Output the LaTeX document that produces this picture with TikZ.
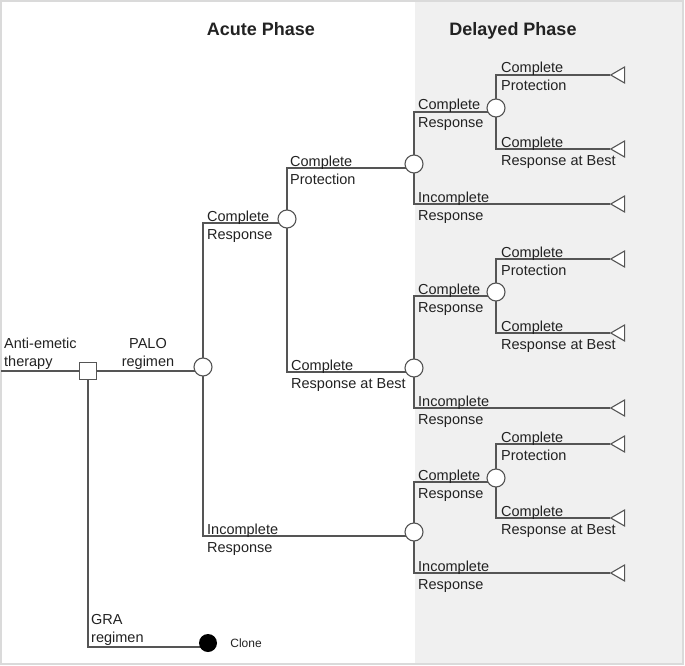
\documentclass[tikz,border=0pt]{standalone}
\usepackage{fontspec}
\setmainfont{Liberation Sans}
\usetikzlibrary{positioning}
\usetikzlibrary{shapes.geometric, backgrounds}
\definecolor{linegray}{HTML}{555555}
\definecolor{bandgray}{HTML}{F0F0F0}
\definecolor{framegray}{HTML}{DADADA}
\definecolor{textgray}{HTML}{222222}

\begin{document}
\begin{tikzpicture}[
    x=1pt, y=-1pt,% one unit per pixel, y runs down
    chance/.style = {circle, draw=linegray, fill=white, line width=1.1pt, minimum size=18pt, inner sep=0pt},% chance nodes
    decision/.style = {rectangle, draw=linegray, fill=white, line width=1.1pt, minimum size=17pt, inner sep=0pt},
    term/.style = {regular polygon, regular polygon sides=3, shape border rotate=90, draw=linegray, fill=white, line width=1.1pt, minimum size=18.5pt, inner sep=0pt},% end nodes
    lbl/.style = {align=left, anchor=base west, inner sep=0pt, text=textgray, font=\fontsize{14.5}{18}\selectfont},% branch labels, placed by 2nd line
    title/.style = {anchor=base, inner sep=0pt, text=textgray, font=\bfseries\fontsize{18}{20}\selectfont},
    branch/.style = {draw=linegray, line width=1.1pt}
    ]
    \useasboundingbox (0,0) rectangle (685,666);
    % titles
    \node (acute) [title] at (261,36) {Acute Phase};
    \node (delayed) [title] at (513,36) {Delayed Phase};
    % tree nodes
    \coordinate (start) at (1,371);
    \node (dec) [decision] at (88,371) {};
    \node (c0) [chance] at (203,367) {};
    \node (c1) [chance] at (287,219) {};
    \node (d1) [chance] at (414,164) {};
    \node (d2) [chance] at (414,368) {};
    \node (d3) [chance] at (414,532) {};
    \node (e1) [chance] at (496,108) {};
    \node (e2) [chance] at (496,292) {};
    \node (e3) [chance] at (496,478) {};
    \node (clone) [circle, fill=black, minimum size=18pt, inner sep=0pt] at (208,643) {};
    \node (t1a) [term] at (620,75) {};
    \node (t1b) [term] at (620,149) {};
    \node (t1c) [term] at (620,204) {};
    \node (t2a) [term] at (620,259) {};
    \node (t2b) [term] at (620,333) {};
    \node (t2c) [term] at (620,408) {};
    \node (t3a) [term] at (620,444) {};
    \node (t3b) [term] at (620,518) {};
    \node (t3c) [term] at (620,573) {};
    % labels
    \node (lther) [lbl, anchor=south west] at (4,370) {Anti-emetic\\therapy};
    \node (lpalo) [lbl, align=center, anchor=south] at (148,370) {PALO\\regimen};
    \node (lgra) [lbl, anchor=south west] at (91,646) {GRA\\regimen};
    \node (lclone) [right=13pt of clone, inner sep=0pt, text=textgray, font=\fontsize{12}{14}\selectfont] {Clone};
    \node (lcr) [lbl] at (207,239) {Complete\\Response};
    \node (lcp) [lbl] at (290,184) {Complete\\Protection};
    \node (lcrb) [lbl] at (291,388) {Complete\\Response at Best};
    \node (lir) [lbl] at (207,552) {Incomplete\\Response};
    \node (l1cr) [lbl] at (418,128) {Complete\\Response};
    \node (l1cp) [lbl] at (501,91) {Complete\\Protection};
    \node (l1crb) [lbl] at (501,165) {Complete\\Response at Best};
    \node (l1ir) [lbl] at (418,220) {Incomplete\\Response};
    \node (l2cr) [lbl] at (418,312) {Complete\\Response};
    \node (l2cp) [lbl] at (501,275) {Complete\\Protection};
    \node (l2crb) [lbl] at (501,349) {Complete\\Response at Best};
    \node (l2ir) [lbl] at (418,424) {Incomplete\\Response};
    \node (l3cr) [lbl] at (418,498) {Complete\\Response};
    \node (l3cp) [lbl] at (501,460) {Complete\\Protection};
    \node (l3crb) [lbl] at (501,534) {Complete\\Response at Best};
    \node (l3ir) [lbl] at (418,589) {Incomplete\\Response};
    \begin{pgfonlayer}{background}
    \fill[bandgray] (415,2) rectangle (683,664);
    \draw[framegray, line width=1.5pt] (1,1) rectangle (683,664);
    % branches
    \draw[branch] (start) -- (dec);
    \draw[branch] (dec) -- ([yshift=-4pt]c0.center);
    \draw[branch] (dec) |- ([yshift=-4pt]clone.center);
    \draw[branch] (c0.center) |- ([yshift=-4pt]c1.center);
    \draw[branch] (c0.center) |- ([yshift=-4pt]d3.center);
    \draw[branch] (c1.center) |- ([yshift=-4pt]d1.center);
    \draw[branch] (c1.center) |- ([yshift=-4pt]d2.center);
    \draw[branch] (d1.center) |- ([yshift=-4pt]e1.center);
    \draw[branch] (d1.center) |- (t1c);
    \draw[branch] (e1.center) |- (t1a);
    \draw[branch] (e1.center) |- (t1b);
    \draw[branch] (d2.center) |- ([yshift=-4pt]e2.center);
    \draw[branch] (d2.center) |- (t2c);
    \draw[branch] (e2.center) |- (t2a);
    \draw[branch] (e2.center) |- (t2b);
    \draw[branch] (d3.center) |- ([yshift=-4pt]e3.center);
    \draw[branch] (d3.center) |- (t3c);
    \draw[branch] (e3.center) |- (t3a);
    \draw[branch] (e3.center) |- (t3b);
    \end{pgfonlayer}
\end{tikzpicture}
\end{document}
